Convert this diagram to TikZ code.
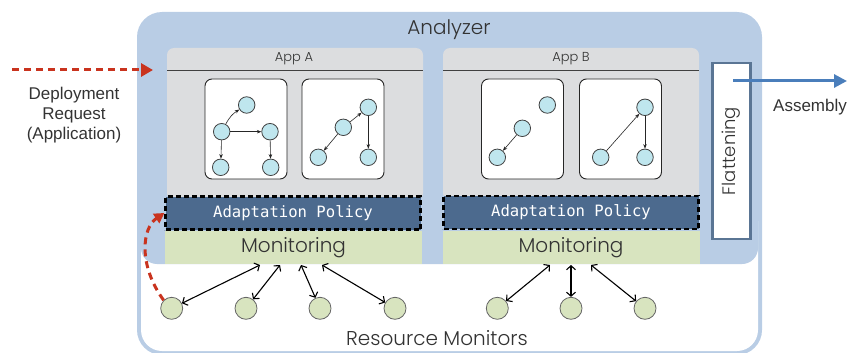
\documentclass[tikz,border=0pt]{standalone}
\usepackage{fontspec}
\setmainfont{Liberation Sans}
\newfontfamily\gothic{Poppins Light}
\newfontfamily\monof{DejaVu Sans Mono}
\usetikzlibrary{arrows.meta}
\definecolor{outerblue}{HTML}{B9CDE5}
\definecolor{panelgray}{HTML}{DCDDDF}
\definecolor{policyblue}{HTML}{4C6A8E}
\definecolor{mongreen}{HTML}{D8E4BF}
\definecolor{nodecyan}{HTML}{BFE6EE}
\definecolor{reqred}{HTML}{C9331E}
\definecolor{asmblue}{HTML}{4A7EBB}
\definecolor{flatblue}{HTML}{5A7594}
\definecolor{txt}{HTML}{333333}
\tikzset{
  panel/.style={fill=panelgray, rounded corners=7pt},
  gbox/.style={draw=black!85, fill=white, line width=0.9pt, rounded corners=7pt, minimum width=82pt, minimum height=100pt, inner sep=0pt},
  gnode/.style={circle, draw=black!75, fill=nodecyan, minimum size=16.5pt, inner sep=0pt, line width=0.8pt},
  gedge/.style={-{Stealth[length=4.5pt,width=3.5pt]}, line width=0.6pt, black!85},
  policy/.style={draw=black, fill=policyblue, line width=2.2pt, dash pattern=on 5pt off 3pt, minimum width=255pt, minimum height=33pt, inner sep=0pt, text=white, font=\monof\fontsize{15.6}{15.6}\selectfont},
  monbox/.style={fill=mongreen, minimum width=257pt, minimum height=33pt, inner sep=0pt, text=txt, font=\gothic\fontsize{20}{20}\selectfont},
  rmon/.style={circle, draw=black!60, fill=mongreen, minimum size=22pt, inner sep=0pt, line width=0.8pt},
  biarrow/.style={{Straight Barb[length=4pt,width=9pt]}-{Straight Barb[length=4pt,width=9pt]}, line width=1.1pt, black},
  gtext/.style={text=txt, font=\gothic\fontsize{#1}{#1}\selectfont},
  htext/.style={text=txt, font=\fontsize{17}{20}\selectfont, align=center},
}
\begin{document}
\begin{tikzpicture}[x=1pt,y=-1pt]
\useasboundingbox (0,0) rectangle (849,353);
% outer analyzer frame
\fill[outerblue, rounded corners=25pt] (137,12) rectangle (762,355);
\fill[white, rounded corners=21pt] (141,200) rectangle (758,351);
\fill[outerblue, rounded corners=16pt] (141,100) rectangle (758,264);
\node[gtext=20] (analyzer) at (449,30) {Analyzer};
% app panels
\fill[panel] (167,48) rectangle (423,200);
\fill[panel] (443,48) rectangle (699,200);
\draw[line width=1pt, black!75] (167,71) -- (423,71);
\draw[line width=1pt, black!75] (443,71) -- (699,71);
\node[gtext=13] (appA) at (294,59) {App A};
\node[gtext=13] (appB) at (571,59) {App B};
% graph boxes
\node[gbox] (ga1) at (246,129) {};
\node[gbox] (ga2) at (343,129) {};
\node[gbox] (gb1) at (522.5,129) {};
\node[gbox] (gb2) at (620.5,129) {};
% App A graph 1
\node[gnode] (a1t) at (246.7,105) {};
\node[gnode] (a1l) at (221.7,131.7) {};
\node[gnode] (a1r) at (270,131.7) {};
\node[gnode] (a1bl) at (220.7,167.3) {};
\node[gnode] (a1br) at (270.7,167.3) {};
\draw[gedge] (a1l) to[bend left=15] (a1t);
\draw[gedge] (a1l) -- (a1r);
\draw[gedge] (a1l) -- (a1bl);
\draw[gedge] (a1r) -- (a1br);
% App A graph 2
\node[gnode] (a2t) at (368.3,107.3) {};
\node[gnode] (a2m) at (343.3,127.3) {};
\node[gnode] (a2bl) at (318.3,157.3) {};
\node[gnode] (a2br) at (368.3,157.3) {};
\draw[gedge] (a2m) -- (a2t);
\draw[gedge] (a2m) -- (a2bl);
\draw[gedge] (a2t) -- (a2br);
% App B graph 1
\node[gnode] (b1t) at (547.3,105) {};
\node[gnode] (b1m) at (522.3,128.3) {};
\node[gnode] (b1bl) at (497.3,157.3) {};
\draw[gedge] (b1m) -- (b1bl);
% App B graph 2
\node[gnode] (b2t) at (645,107.3) {};
\node[gnode] (b2bl) at (600.7,157.3) {};
\node[gnode] (b2br) at (645,157.3) {};
\draw[gedge] (b2bl) -- (b2t);
\draw[gedge] (b2t) -- (b2br);
% policy and monitoring
\node[policy] (polA) at (293,213) {Adaptation Policy};
\node[policy] (polB) at (571,212.5) {Adaptation Policy};
\node[monbox] (monA) at (293.5,247.5) {Monitoring};
\node[monbox] (monB) at (571,247.5) {Monitoring};
% flattening
\node[draw=flatblue, fill=white, line width=2.5pt, rotate=90, minimum width=176pt, minimum height=38pt, inner sep=0pt, gtext=18] (flat) at (731.5,151) {Flattening};
% resource monitors
\node[rmon] (rA1) at (171.7,308.3) {};
\node[rmon] (rA2) at (246,308.3) {};
\node[rmon] (rA3) at (320,308.3) {};
\node[rmon] (rA4) at (395,308.3) {};
\node[rmon] (rB1) at (497.3,308.3) {};
\node[rmon] (rB2) at (571,308.3) {};
\node[rmon] (rB3) at (645,308.3) {};
\coordinate (mA1) at (260,265);
\coordinate (mA2) at (280,265);
\coordinate (mA3) at (301,265);
\coordinate (mA4) at (322,265);
\coordinate (mB1) at (550,265);
\coordinate (mB2) at (571,265);
\coordinate (mB3) at (591,265);
\draw[biarrow] (mA1) -- (rA1);
\draw[biarrow] (mA2) -- (rA2);
\draw[biarrow] (mA3) -- (rA3);
\draw[biarrow] (mA4) -- (rA4);
\draw[biarrow] (mB1) -- (rB1);
\draw[biarrow] (mB2) -- (rB2);
\draw[biarrow] (mB3) -- (rB3);
\node[gtext=20] (resmon) at (437,338) {Resource Monitors};
% deployment request
\coordinate (depS) at (12,70);
\coordinate (depE) at (153,70);
\draw[reqred, line width=3pt, dash pattern=on 7pt off 5pt, -{Triangle[length=12pt,width=13pt]}] (depS) -- (depE);
\node[htext] (deptext) at (74,115) {Deployment\\Request\\(Application)};
\draw[reqred, line width=3pt, dash pattern=on 7pt off 5pt, -{Triangle[length=10pt,width=11pt]}] (rA1.north west) .. controls (138,265) and (142,228) .. (polA.west);
% assembly
\coordinate (asmS) at (733,81);
\coordinate (asmE) at (847,81);
\draw[asmblue, line width=3pt, -{Triangle[length=13pt,width=13pt]}] (asmS) -- (asmE);
\node[htext] (asm) at (810,107) {Assembly};
\end{tikzpicture}
\end{document}
